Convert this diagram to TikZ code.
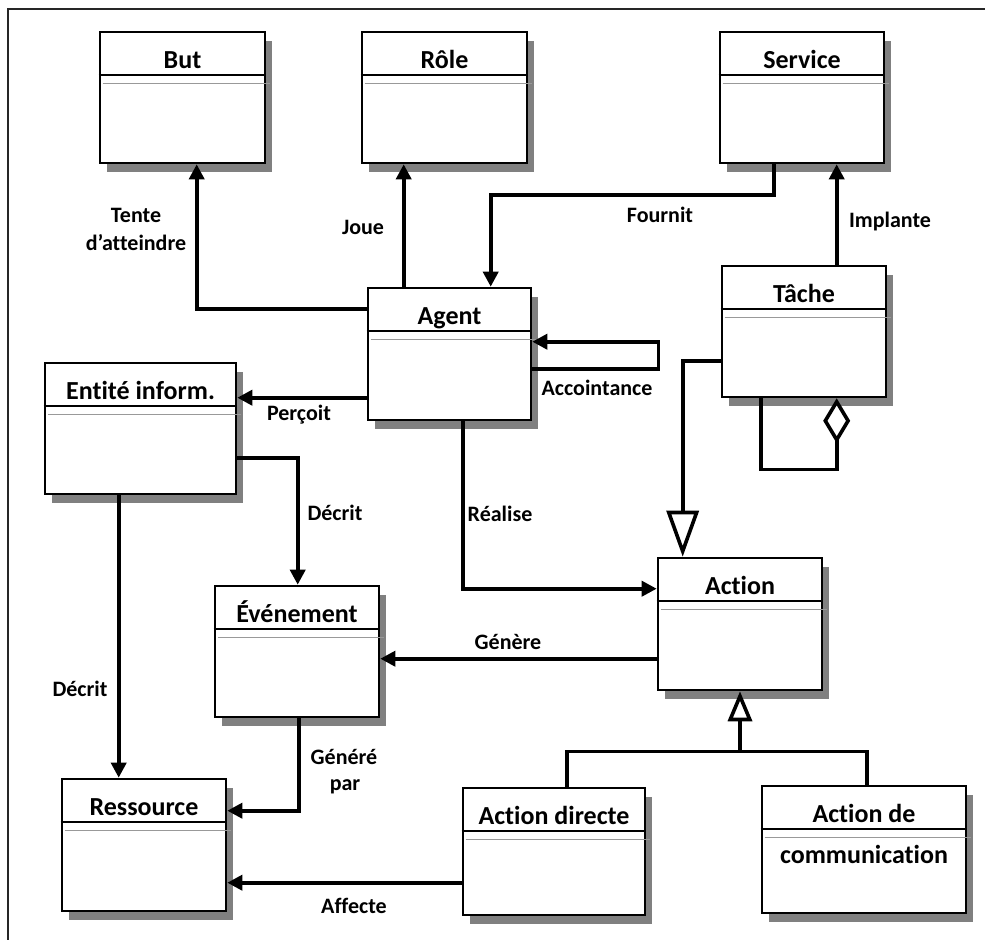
\documentclass[tikz,border=0pt]{standalone}
\usepackage{fontspec}
\setmainfont{Carlito}[Ligatures=NoCommon]
\usetikzlibrary{arrows.meta,calc,shadows}
\begin{document}
\begin{tikzpicture}[x=1pt,y=-1pt,
  cls/.style={draw=black, line width=2.6pt, fill=white, inner sep=0pt,
     drop shadow={shadow xshift=7pt, shadow yshift=-9pt, fill=black!50, opacity=1}},
  ttl/.style={anchor=base, font=\fontsize{26}{30}\selectfont\bfseries, inner sep=0pt},
  lbl/.style={anchor=base, font=\fontsize{22}{26}\selectfont\bfseries, inner sep=0pt},
  hdr/.style={line width=1.6pt},
  sepl/.style={line width=1.2pt, draw=black!40},
  con/.style={line width=3.6pt},
  arr/.style={con, -{Triangle[length=15pt,width=15pt]}},
  genbig/.style={con, -{Triangle[fill=white,length=46pt,width=32pt]}},
  gensmall/.style={con, -{Triangle[fill=white,length=30pt,width=24pt]}},
  aggr/.style={con, {Diamond[fill=white,length=45pt,width=27pt]}-}
]
\useasboundingbox (0,0) rectangle (985,940);
\draw[line width=1.8pt, black!85] (985,9) -- (8,9) -- (8,940);

% classes
\node[cls, minimum width=165pt, minimum height=131pt] (but) at (182.5,97.5) {};
\node[cls, minimum width=165pt, minimum height=131pt] (role) at (444.5,97.5) {};
\node[cls, minimum width=164pt, minimum height=131pt] (service) at (802,97.5) {};
\node[cls, minimum width=163pt, minimum height=132pt] (agent) at (449.5,354) {};
\node[cls, minimum width=164pt, minimum height=131pt] (tache) at (804,331.5) {};
\node[cls, minimum width=191pt, minimum height=131pt] (entite) at (140.5,428.5) {};
\node[cls, minimum width=164pt, minimum height=131pt] (evt) at (297,651.5) {};
\node[cls, minimum width=164pt, minimum height=132pt] (action) at (740,624) {};
\node[cls, minimum width=164pt, minimum height=132pt] (res) at (144,845) {};
\node[cls, minimum width=182pt, minimum height=127pt] (adir) at (554,851.5) {};
\node[cls, minimum width=204pt, minimum height=127pt] (acom) at (864,849.5) {};

% compartments and titles
\foreach \n/\t in {but/But, role/Rôle, service/Service, agent/Agent, tache/Tâche,
                   entite/Entité inform., evt/Événement, action/Action, res/Ressource,
                   adir/Action directe, acom/Action de}{
  \draw[hdr] ($(\n.north west)+(0,44)$) -- ($(\n.north east)+(0,44)$);
  \draw[sepl] ($(\n.north west)+(4,53)$) -- ($(\n.north east)+(4,53)$);
  \node[ttl] (\n-t) at ($(\n.north)+(0,38)$) {\t};
}
\node[ttl] (acom-t2) at ($(acom.north)+(0,79)$) {communication};

% connectors
\draw[arr] ($(agent.north west)+(0,22)$) -| ($(but.south west)+(98,0)$);
\coordinate (joue) at ($(agent.north west)+(37,0)$);
\draw[arr] (joue) -- (joue |- role.south);
\draw[arr] ($(service.south west)+(55,0)$) |- ($(agent.north west)+(124,-92)$) -- ($(agent.north west)+(124,0)$);
\coordinate (impl) at ($(tache.north west)+(116,0)$);
\draw[arr] (impl) -- (impl |- service.south);
\draw[arr] ($(agent.north east)+(0,82)$) -| ($(agent.north east)+(126,55)$) -- ($(agent.north east)+(0,55)$);
\coordinate (perc) at ($(agent.north west)+(0,111)$);
\draw[arr] (perc) -- (perc -| entite.east);
\draw[arr] ($(entite.north east)+(0,96)$) -| ($(evt.north west)+(84,0)$);
\coordinate (dec) at ($(entite.south west)+(75,0)$);
\draw[arr] (dec) -- (dec |- res.north);
\draw[arr] ($(evt.south west)+(85,0)$) |- ($(res.north east)+(0,33)$);
\coordinate (aff) at ($(adir.north west)+(0,96)$);
\draw[arr] (aff) -- (aff -| res.east);
\draw[arr] ($(agent.south west)+(96,0)$) |- ($(action.north west)+(0,32)$);
\coordinate (gen) at ($(action.north west)+(0,102)$);
\draw[arr] (gen) -- (gen -| evt.east);
\draw[genbig] ($(tache.north west)+(0,96)$) -| ($(action.north west)+(26,0)$);
\draw[aggr] ($(tache.south west)+(116,0)$) -- ++(0,71) -| ($(tache.south west)+(40,0)$);
\coordinate (gj) at ($(action.south)+(0,60)$);
\draw[con] ($(adir.north west)+(105,0)$) |- (gj) -| ($(acom.north west)+(106,0)$);
\draw[gensmall] (gj) -- (action.south);

% labels
\node[lbl] (l-tente1) at (136,222) {Tente};
\node[lbl] (l-tente2) at (136,250) {d’atteindre};
\node[lbl] (l-joue) at (363,234) {Joue};
\node[lbl] (l-fournit) at (660,222) {Fournit};
\node[lbl] (l-impl) at (890,227) {Implante};
\node[lbl] (l-acc) at (597,395) {Accointance};
\node[lbl] (l-perc) at (299,420) {Perçoit};
\node[lbl] (l-dec1) at (335,520) {Décrit};
\node[lbl] (l-real) at (500,521) {Réalise};
\node[lbl] (l-genere) at (508,649) {Génère};
\node[lbl] (l-dec2) at (80,696) {Décrit};
\node[lbl] (l-gp1) at (344,764) {Généré};
\node[lbl] (l-gp2) at (345,790) {par};
\node[lbl] (l-aff) at (354,913) {Affecte};
\end{tikzpicture}
\end{document}
